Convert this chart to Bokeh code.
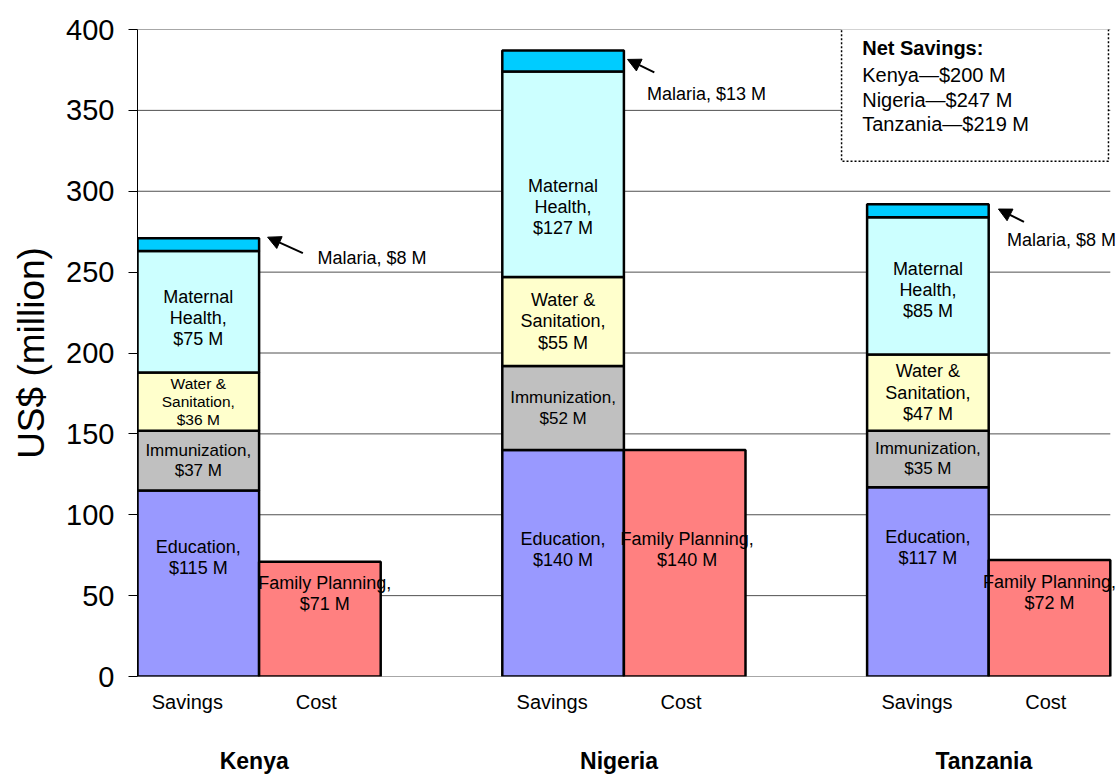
import numpy as np
from bokeh.plotting import figure
from bokeh.models import (ColumnDataSource, LabelSet, Arrow, NormalHead,
                          BoxAnnotation, Range1d, FixedTicker, LinearAxis)
from bokeh.core.properties import value
from bokeh.embed import file_html
from bokeh.resources import INLINE

# ---------------- data ----------------
countries = ["Kenya", "Nigeria", "Tanzania"]
education = [115, 140, 117]
immunization = [37, 52, 35]
water_sanitation = [36, 55, 47]
maternal_health = [75, 127, 85]
malaria = [8, 13, 8]
family_planning = [71, 140, 72]
net_savings = [200, 247, 219]
bar_labels = ["Savings", "Cost"]
y_ticks = [0, 50, 100, 150, 200, 250, 300, 350, 400]

# ---------------- styling / layout ----------------
FONT = "Liberation Sans"
W, H = 1120, 776
FRAME_TOP, FRAME_LEFT, FRAME_H = 29, 137, 648
PX_PER_UNIT = FRAME_H / 400.0        # vertical pixels per US$ million
SLOT_PX = 121.6                      # horizontal pixels per bar slot
X_MAX = (W - FRAME_LEFT) / SLOT_PX

seg_colors = ["#9999FF", "#C0C0C0", "#FFFFCC", "#CCFFFF", "#00CCFF"]
fp_color = "#FF8080"
group_start = [0, 3, 6]
label_frac = {
    "Education": [0.64, 0.56, 0.68],
    "Immunization": [0.5, 0.5, 0.5],
    "Water": [0.5, 0.5, 0.5],
    "Maternal": [0.45, 0.34, 0.47],
}
label_size = {
    "Education": [18, 18, 18],
    "Immunization": [17, 17, 17],
    "Water": [15.5, 18, 18],
    "Maternal": [18, 18, 18],
}
fp_frac = [0.72, 0.56, 0.72]
fp_dx = [0.04, 0.02, 0.0]
# callout offsets: (dx_head, dy_head, dx_tail, dy_tail, dx_text, dy_text)
callout = [(0.07, 0.6, 0.36, -9.3, 0.48, -12.4),
           (0.03, -5.5, 0.25, -13.5, 0.19, -27),
           (0.08, -3, 0.29, -11, 0.15, -22)]

p = figure(width=W, height=H, output_backend="svg", toolbar_location=None,
           x_range=Range1d(0, X_MAX), y_range=Range1d(0, 400),
           min_border_left=FRAME_LEFT, min_border_right=0, min_border_top=FRAME_TOP,
           min_border_bottom=H - FRAME_TOP - FRAME_H)
p.outline_line_color = None
p.background_fill_color = "white"
p.border_fill_color = "white"
p.xgrid.visible = False
p.ygrid.visible = False

# ---------------- y axis ----------------
ax = p.yaxis[0]
ax.ticker = FixedTicker(ticks=y_ticks)
ax.axis_line_color = "black"
ax.axis_line_width = 1
ax.major_tick_out = 9
ax.major_tick_in = 0
ax.major_tick_line_color = "black"
ax.minor_tick_line_color = None
ax.major_label_text_font = FONT
ax.major_label_text_font_size = "29px"
ax.major_label_text_color = "black"
ax.major_label_standoff = 14
ax.axis_label = "US$ (million)"
ax.axis_label_text_font = FONT
ax.axis_label_text_font_size = "37px"
ax.axis_label_text_font_style = "normal"
ax.axis_label_text_color = "black"
ax.axis_label_standoff = 11

# ---------------- x axes: bar names and country names ----------------
bar_ticks, bar_over = [], {}
for g in group_start:
    for off, name in zip([0.41, 1.47], bar_labels):
        t = g + off
        bar_ticks.append(t)
        bar_over[t] = name
xa = p.xaxis[0]
xa.ticker = FixedTicker(ticks=bar_ticks)
xa.major_label_overrides = bar_over
xa.axis_line_color = None
xa.major_tick_line_color = None
xa.minor_tick_line_color = None
xa.major_tick_out = 0
xa.major_tick_in = 0
xa.major_label_standoff = 14
xa.major_label_text_font = FONT
xa.major_label_text_font_size = "20px"
xa.major_label_text_color = "black"

c_ticks = [g + 0.96 for g in group_start]
xc = LinearAxis(ticker=FixedTicker(ticks=c_ticks),
                major_label_overrides={t: c for t, c in zip(c_ticks, countries)},
                axis_line_color=None, major_tick_line_color=None,
                minor_tick_line_color=None, major_tick_out=0, major_tick_in=0,
                major_label_standoff=32, major_label_text_font=FONT,
                major_label_text_font_size="23px", major_label_text_font_style="bold",
                major_label_text_color="black")
p.add_layout(xc, "below")

# gridlines drawn from the tick values, from axis to last bar
p.segment(x0=[0] * len(y_ticks), x1=[8] * len(y_ticks), y0=y_ticks, y1=y_ticks,
          line_color="#505050", line_width=1)

# ---------------- bars ----------------
series = [education, immunization, water_sanitation, maternal_health, malaria]
vals = np.array(series, dtype=float)          # shape (5, 3)
tops = np.cumsum(vals, axis=0)
bottoms = tops - vals

bx, bb, bt, bc = [], [], [], []
for i in range(3):
    for s in range(5):
        bx.append(group_start[i] + 0.5)
        bb.append(bottoms[s, i])
        bt.append(tops[s, i])
        bc.append(seg_colors[s])
    bx.append(group_start[i] + 1.5)
    bb.append(0)
    bt.append(family_planning[i])
    bc.append(fp_color)

bars = ColumnDataSource(dict(x=bx, bottom=bb, top=bt, color=bc))
p.vbar(x="x", width=1.0, bottom="bottom", top="top", source=bars,
       fill_color="color", line_color="black", line_width=2.5)

# ---------------- segment labels (one entry per text line) ----------------
lx, ly, lt, ls = [], [], [], []


def add_block(x, yc, lines, size):
    step = size * 1.18 / PX_PER_UNIT
    n = len(lines)
    for k, line in enumerate(lines):
        lx.append(x)
        ly.append(yc + ((n - 1) / 2 - k) * step)
        lt.append(line)
        ls.append(f"{size}px")


for i in range(3):
    blocks = [
        ("Education", ["Education,", f"${education[i]} M"]),
        ("Immunization", ["Immunization,", f"${immunization[i]} M"]),
        ("Water", ["Water &", "Sanitation,", f"${water_sanitation[i]} M"]),
        ("Maternal", ["Maternal", "Health,", f"${maternal_health[i]} M"]),
    ]
    for s, (name, lines) in enumerate(blocks):
        yc = bottoms[s, i] + vals[s, i] * label_frac[name][i]
        add_block(group_start[i] + 0.5, yc, lines, label_size[name][i])
    add_block(group_start[i] + 1.5 + fp_dx[i], family_planning[i] * fp_frac[i],
              ["Family Planning,", f"${family_planning[i]} M"], 18)

lsrc = ColumnDataSource(dict(x=lx, y=ly, text=lt, size=ls))
p.add_layout(LabelSet(x="x", y="y", text="text", source=lsrc,
                      text_font=value(FONT), text_font_size="size",
                      text_color="black", text_align="center",
                      text_baseline="middle"))

# ---------------- malaria callouts ----------------
mx, my, mt = [], [], []
for i in range(3):
    total = tops[4, i]
    right = group_start[i] + 1.0
    dxh, dyh, dxt, dyt, dxx, dyx = callout[i]
    p.add_layout(Arrow(end=NormalHead(size=13, fill_color="black", line_color="black"),
                       x_start=right + dxt, y_start=total + dyt,
                       x_end=right + dxh, y_end=total + dyh,
                       line_color="black", line_width=2))
    mx.append(right + dxx)
    my.append(total + dyx)
    mt.append(f"Malaria, ${malaria[i]} M")
msrc = ColumnDataSource(dict(x=mx, y=my, text=mt))
p.add_layout(LabelSet(x="x", y="y", text="text", source=msrc,
                      text_font=value(FONT), text_font_size="18px",
                      text_color="black", text_align="left",
                      text_baseline="middle"))

# ---------------- net savings box ----------------
p.add_layout(BoxAnnotation(left=5.79, right=7.985, bottom=318.5, top=400.8,
                           fill_color="white", fill_alpha=1.0,
                           line_color="black", line_alpha=1.0, line_width=1.5,
                           line_dash="2 2"))
ns_lines = ["Net Savings:"] + [f"{c}\u2014${v} M" for c, v in zip(countries, net_savings)]
ns_y = [388.3, 371.6, 356.6, 341.4]
nsrc = ColumnDataSource(dict(x=[5.96] * 4, y=ns_y, text=ns_lines,
                             style=["bold", "normal", "normal", "normal"]))
p.add_layout(LabelSet(x="x", y="y", text="text", source=nsrc,
                      text_font=value(FONT), text_font_size="20px",
                      text_font_style="style", text_color="black",
                      text_align="left", text_baseline="middle"))

open("out.html", "w").write(file_html(p, INLINE))
